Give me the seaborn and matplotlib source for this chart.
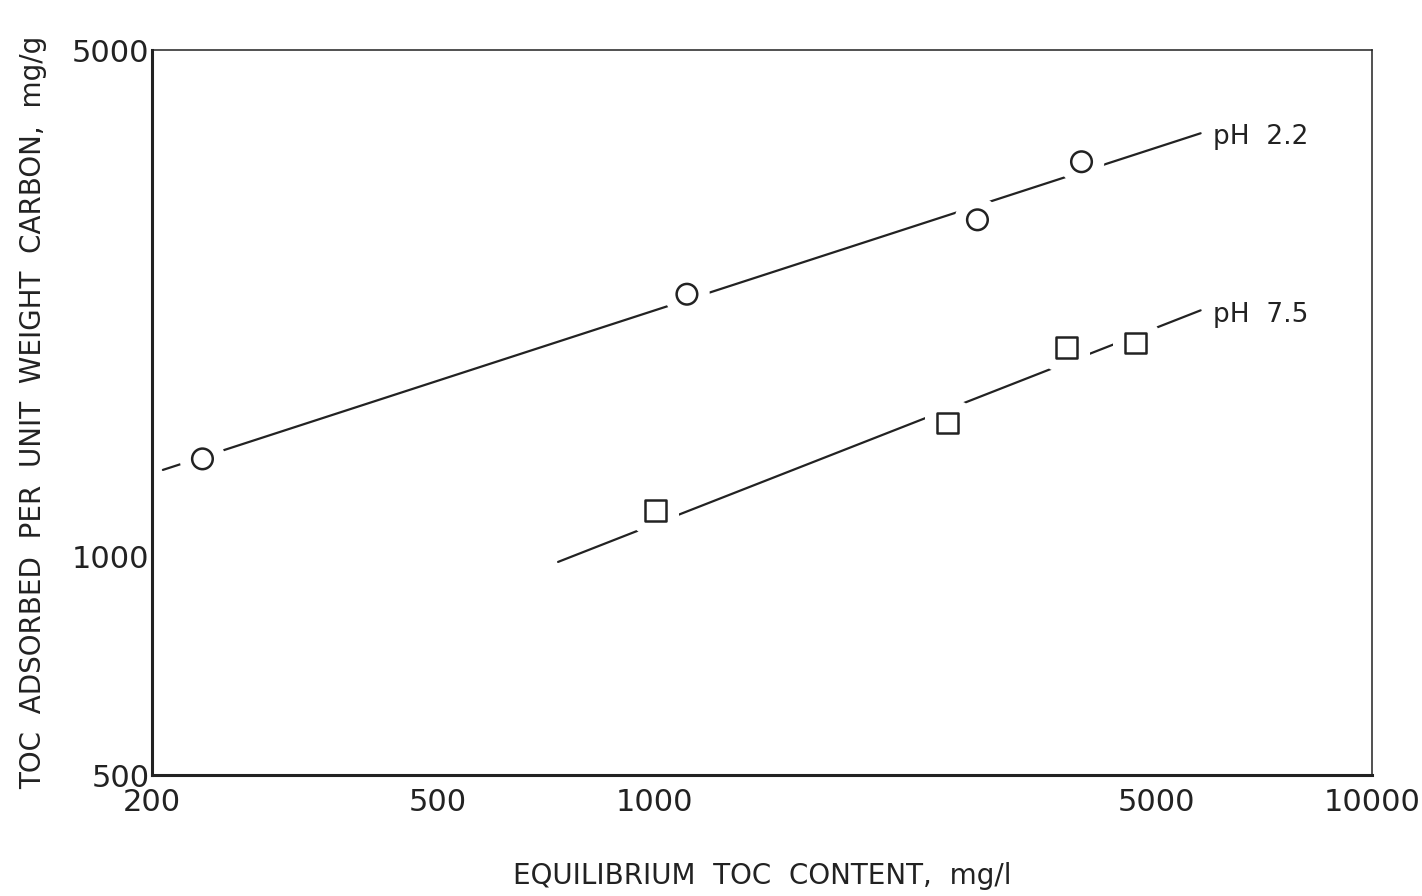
import numpy as np
import pandas as pd
import seaborn as sns
import matplotlib.pyplot as plt
import matplotlib.patheffects as pe

# measured points
ph22_x = [235, 1111, 2820, 3937]
ph22_y = [1365, 2303, 2917, 3508]
ph75_x = [1004, 2560, 3750, 4680]
ph75_y = [1159, 1530, 1946, 1972]

# hand-drawn fit lines (end points)
fit22_x = [207, 5768]
fit22_y = [1318, 3840]
fit75_x = [735, 5768]
fit75_y = [984, 2188]

x_ticks = [200, 500, 1000, 5000, 10000]
y_ticks = [500, 1000, 5000]

sns.set_style("white")
plt.rcParams['font.family'] = ['DejaVu Sans']

fig = plt.figure(figsize=(14.22, 8.96), dpi=100)
ax = fig.add_axes([0.107, 0.135, 0.858, 0.809])

pts = pd.concat([
    pd.DataFrame({"x": ph22_x, "y": ph22_y, "series": "pH 2.2"}),
    pd.DataFrame({"x": ph75_x, "y": ph75_y, "series": "pH 7.5"}),
])
fits = pd.concat([
    pd.DataFrame({"x": fit22_x, "y": fit22_y, "series": "pH 2.2"}),
    pd.DataFrame({"x": fit75_x, "y": fit75_y, "series": "pH 7.5"}),
])

ax.set_xscale("log")
ax.set_yscale("log")

sns.lineplot(data=fits, x="x", y="y", units="series", estimator=None,
             color="#222222", lw=1.6, ax=ax, zorder=2)

sns.scatterplot(data=pts, x="x", y="y", style="series",
                markers={"pH 2.2": "o", "pH 7.5": "s"},
                s=220, facecolor="white", edgecolor="#222222",
                linewidth=1.8, legend=False, ax=ax, zorder=3)
for coll in ax.collections:
    coll.set_path_effects([pe.Stroke(linewidth=18, foreground="white"), pe.Normal()])

# series labels at end of the lines
ax.annotate("pH  2.2", xy=(fit22_x[-1], fit22_y[-1]), xytext=(9, -3),
            textcoords="offset points", fontsize=19, color="#222222", va="center")
ax.annotate("pH  7.5", xy=(fit75_x[-1], fit75_y[-1]), xytext=(9, -3),
            textcoords="offset points", fontsize=19, color="#222222", va="center")

ax.set_xlim(200, 10000)
ax.set_ylim(500, 5000)
ax.minorticks_off()
ax.set_xticks(x_ticks)
ax.set_xticklabels([str(v) for v in x_ticks])
ax.set_yticks(y_ticks)
ax.set_yticklabels([str(v) for v in y_ticks])
ax.tick_params(axis="both", which="major", direction="in", length=7, width=1.3,
               labelsize=22, colors="#222222")
ax.tick_params(axis="x", pad=9)
ax.tick_params(axis="y", pad=2)

for side in ["left", "bottom"]:
    ax.spines[side].set_linewidth(2.2)
for side in ["top", "right"]:
    ax.spines[side].set_linewidth(1.1)
for sp in ax.spines.values():
    sp.set_color("#222222")
    sp.set_visible(True)

ax.set_xlabel("EQUILIBRIUM  TOC  CONTENT,  mg/l", fontsize=20, labelpad=33, color="#222222")
ax.set_ylabel("TOC  ADSORBED  PER  UNIT  WEIGHT  CARBON,  mg/g", fontsize=20,
              labelpad=18, color="#222222")

fig.savefig("out.png", dpi=100)
